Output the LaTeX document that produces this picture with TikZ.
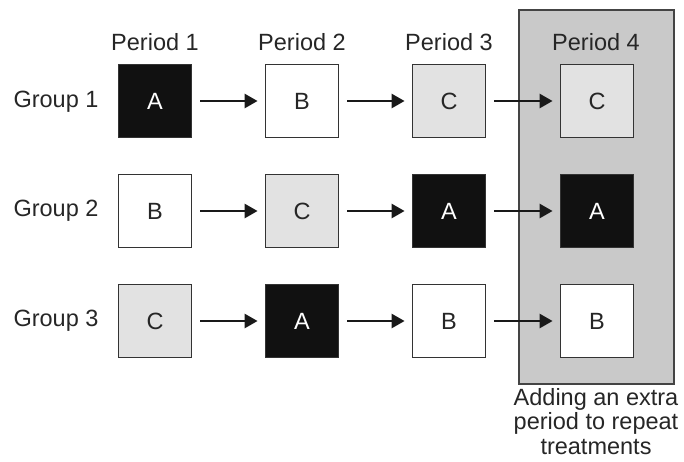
\documentclass[tikz,border=0pt]{standalone}
\usepackage{fontspec}
\setmainfont{Liberation Sans}
\usetikzlibrary{arrows.meta}
\definecolor{boxline}{HTML}{333333}
\definecolor{darkfill}{HTML}{111111}
\definecolor{lightfill}{HTML}{E2E2E2}
\definecolor{panelfill}{HTML}{C9C9C9}
\definecolor{panelline}{HTML}{444444}
\begin{document}
\begin{tikzpicture}[x=1pt,y=-1pt,
  every node/.style={font=\fontsize{23.5}{24.5}\selectfont, text=black!85},
  cell/.style={draw=boxline, line width=1.8pt, minimum size=73pt, inner sep=0pt},
  dark/.style={cell, fill=darkfill, text=white},
  light/.style={cell, fill=lightfill},
  plain/.style={cell, fill=white},
  flow/.style={line width=2.6pt, draw=black!90, shorten <=8pt, shorten >=7pt,
    -{Triangle[length=13pt,width=14pt]}},
  panel/.style={draw=panelline, line width=1.8pt, fill=panelfill}
]
\useasboundingbox (0,0) rectangle (684,461);

% shaded column for the added period
\draw[panel] (519,10) rectangle (674,384);

% column and row headings
\node (p1) at (155,42) {Period 1};
\node (p2) at (302,42) {Period 2};
\node (p3) at (449,42) {Period 3};
\node (p4) at (596,42) {Period 4};
\node (g1) at (56,102) {Group 1};
\node (g2) at (56,211) {Group 2};
\node (g3) at (56,321) {Group 3};

% treatment cells
\node[dark]  (a1) at (155,101) {A};
\node[plain] (a2) at (302,101) {B};
\node[light] (a3) at (449,101) {C};
\node[light] (a4) at (597,101) {C};

\node[plain] (b1) at (155,211) {B};
\node[light] (b2) at (302,211) {C};
\node[dark]  (b3) at (449,211) {A};
\node[dark]  (b4) at (597,211) {A};

\node[light] (c1) at (155,321) {C};
\node[dark]  (c2) at (302,321) {A};
\node[plain] (c3) at (449,321) {B};
\node[plain] (c4) at (597,321) {B};

% sequence arrows
\foreach \r in {a,b,c}{
  \draw[flow] (\r1) -- (\r2);
  \draw[flow] (\r2) -- (\r3);
  \draw[flow] (\r3) -- (\r4);
}

% caption under the shaded column
\node[align=center, anchor=north, inner sep=2pt] (note) at (596,386)
  {Adding an extra\\period to repeat\\treatments};
\end{tikzpicture}
\end{document}
